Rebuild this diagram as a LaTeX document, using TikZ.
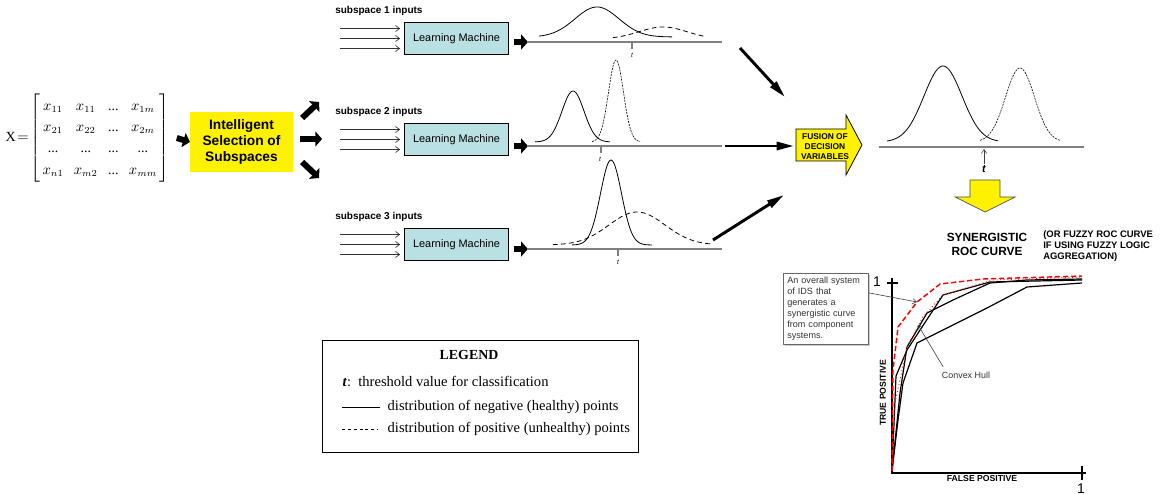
\documentclass[tikz,border=0pt]{standalone}
\usepackage{amsmath}
\usepackage{fontspec}
\setmainfont{Liberation Serif}
\setsansfont{Liberation Sans}
\usetikzlibrary{arrows.meta,calc,shadows}

\definecolor{lmfill}{RGB}{185,224,226}
\definecolor{axisgray}{RGB}{128,128,128}

\tikzset{
  lmbox/.style={draw, fill=lmfill, line width=0.6pt, minimum width=78pt, minimum height=24.5pt,
    font=\sffamily\fontsize{8.2}{10}\selectfont},
  sublabel/.style={anchor=west, inner sep=0pt, font=\sffamily\bfseries\fontsize{7.5}{9}\selectfont},
  inarrow/.style={-{Straight Barb[length=3pt,width=4.5pt]}, line width=0.5pt, black!80},
  fatarrow/.style={line width=4.5pt, -{Triangle[length=5pt,width=11pt]}},
  longarrow/.style={line width=2.2pt, -{Triangle[length=13pt,width=6pt]}},
  axisline/.style={axisgray, line width=1.1pt},
  negcurve/.style={line width=0.6pt},
  poscurve/.style={line width=0.6pt, dash pattern=on 3.5pt off 2.5pt},
  poscurvethin/.style={line width=0.45pt, dash pattern=on 1.5pt off 0.8pt},
  tlabel/.style={inner sep=0pt, font=\sffamily\itshape\fontsize{5}{6}\selectfont},
  ptr/.style={-{Straight Barb[length=3pt,width=4pt]}, line width=0.45pt, black!75},
  rocline/.style={line width=0.9pt},
  legtext/.style={anchor=west, font=\fontsize{10.9}{13}\selectfont},
}

\begin{document}
\begin{tikzpicture}[x=0.75pt,y=-0.75pt]
  \useasboundingbox (0,0) rectangle (1160,495);

  % data matrix and subspace selection
  \node[anchor=west] (X) at (1,138) {\fontsize{10.5}{13.6}\selectfont\renewcommand{\arraystretch}{1.18}%
    \setlength{\arraycolsep}{3.9pt}%
    $\textrm{X}\!=\!\left[\begin{array}{@{\,}cccc@{\,}}
      x_{11} & x_{11} & \mbox{...} & x_{1m}\\
      x_{21} & x_{22} & \mbox{...} & x_{2m}\\
      \mbox{...} & \mbox{...} & \mbox{...} & \mbox{...}\\
      x_{n1} & x_{m2} & \mbox{...} & x_{mm}
    \end{array}\right]$};
  \node[fill=yellow, minimum width=77pt, minimum height=45pt, align=center,
    font=\sffamily\bfseries\fontsize{10.3}{12}\selectfont] (sel) at (241.5,142)
    {Intelligent\\Selection of\\Subspaces};
  \draw[fatarrow] (X.east) ++(3,0) -- (sel.west);
  \draw[fatarrow] (sel.east) ++(9,-24) -- ++(17,-16);
  \draw[fatarrow] (sel.east) ++(7,-3) -- ++(22,0);
  \draw[fatarrow] (sel.east) ++(9,20) -- ++(17,16);

  % learning machines
  \foreach \r/\cy/\ay in {1/38.5/42, 2/139.5/146, 3/244.5/249} {
    \node[sublabel] (lab\r) at (335,{\cy-28}) {subspace \r\ inputs};
    \node[lmbox] (lm\r) at (456.5,\cy) {Learning Machine};
    \foreach \dy in {-10,0,10}
      \draw[inarrow] (lm\r.west) ++(-64,\dy) -- ++(60,0);
    \draw[fatarrow] (lm\r.east) ++(5,{\ay-\cy}) -- ++(14,0);
    \draw[axisline] (527,\ay) -- (722,\ay);
  }

  % subspace 1
  \draw[negcurve] plot[domain=539:672, samples=70] (\x, {37-30*exp(-0.5*(\x-597)*(\x-597)/(22*22))});
  \draw[poscurve] plot[domain=613:706, samples=50] (\x, {39-12*exp(-0.5*(\x-663)*(\x-663)/(24*24))});
  \draw[axisline, line width=0.8pt] (632,42) -- (632,49);
  \node[tlabel] (t1) at (632,55) {t};

  % subspace 2
  \draw[negcurve] plot[domain=535:610, samples=60] (\x, {142-51*exp(-0.5*(\x-573)*(\x-573)/(11*11))});
  \draw[poscurvethin] plot[domain=592:640, samples=60] (\x, {142-82*exp(-0.5*(\x-616)*(\x-616)/(7.5*7.5))});
  \draw[axisline, line width=0.8pt] (601,146) -- (601,153);
  \node[tlabel] (t2) at (600,159) {t};

  % subspace 3
  \draw[negcurve] plot[domain=572:652, samples=70] (\x, {245-85*exp(-0.5*(\x-611)*(\x-611)/(10.5*10.5))});
  \draw[poscurve] plot[domain=553:712, samples=70] (\x, {245-33*exp(-0.5*(\x-637)*(\x-637)/(28*28))});
  \draw[axisline, line width=0.8pt] (618,249) -- (618,256);
  \node[tlabel] (t3) at (618,262) {t};

  % fusion
  \draw[fill=yellow, line width=0.6pt] (796,129) -- (846,129) -- (846,115) -- (862,145)
    -- (846,175) -- (846,161) -- (796,161) -- cycle;
  \node[align=center, inner sep=0pt, font=\sffamily\bfseries\fontsize{6.3}{7.5}\selectfont]
    (fusion) at (825,147) {FUSION OF\\DECISION\\VARIABLES};
  \coordinate (in1) at (740,48);  \coordinate (out1) at (785,97);
  \coordinate (in2) at (725,146); \coordinate (out2) at (794,146);
  \coordinate (in3) at (713,240); \coordinate (out3) at (784,195);
  \draw[longarrow] (in1) -- (out1);
  \draw[longarrow] (in2) -- (out2);
  \draw[longarrow] (in3) -- (out3);

  % fused decision variable
  \draw[axisline] (879,147) -- (1084,147);
  \draw[negcurve] plot[domain=887:998, samples=70] (\x, {142-76*exp(-0.5*(\x-943)*(\x-943)/(19*19))});
  \draw[poscurvethin] plot[domain=980:1060, samples=70] (\x, {142-74*exp(-0.5*(\x-1020)*(\x-1020)/(14.5*14.5))});
  \node[inner sep=1pt, font=\sffamily\bfseries\itshape\fontsize{8}{9}\selectfont] (tf) at (984,169) {t};
  \draw[ptr] (tf.north) -- (984,149);
  \draw[fill=yellow, draw=black!70, line width=0.5pt] (970,180) -- (1000,180) -- (1000,197)
    -- (1015,197) -- (985,212) -- (955,197) -- (970,197) -- cycle;

  % ROC curve
  \node[align=center, font=\sffamily\bfseries\fontsize{8.9}{10.5}\selectfont] (roctitle) at (987,244)
    {SYNERGISTIC\\ROC CURVE};
  \node[anchor=north west, align=left, inner sep=0pt, font=\sffamily\bfseries\fontsize{7.1}{8.25}\selectfont]
    (fuzzy) at (1043,230) {(OR FUZZY ROC CURVE\\IF USING FUZZY LOGIC\\AGGREGATION)};
  \draw[line width=1.1pt] (892,278) -- (892,473) -- (1086,473);
  \draw[line width=1.1pt] (887,283) -- (898,283);
  \draw[line width=1.1pt] (1082,466) -- (1082,480);
  \node[font=\sffamily\fontsize{10.5}{12}\selectfont] (one1) at (877,282) {1};
  \node[font=\sffamily\fontsize{10.5}{12}\selectfont] (one2) at (1081,489) {1};
  \node[font=\sffamily\bfseries\fontsize{6.5}{8}\selectfont] (fp) at (982,479) {FALSE POSITIVE};
  \node[rotate=90, font=\sffamily\bfseries\fontsize{6.5}{8}\selectfont] (tp) at (883,393) {TRUE POSITIVE};

  \draw[rocline] (892,471) -- (896,376) -- (907,350) -- (943,295) -- (990,282) -- (1082,280);
  \draw[rocline] (892,471) -- (900,393) -- (907,347) -- (927,313) -- (953,300) -- (990,283)
    -- (1027,280) -- (1082,279);
  \draw[rocline] (892,471) -- (898,420) -- (903,383) -- (917,343) -- (987,308) -- (1027,287) -- (1082,283);
  \draw[red, line width=1.1pt, dash pattern=on 4pt off 2pt] (892,471) -- (893,370) -- (898,327)
    -- (917,302) -- (940,284) -- (983,279) -- (1082,276);
  \draw[red, line width=0.7pt, dotted] (892,471) -- (895,403) -- (907,347) -- (923,317) -- (943,295)
    -- (993,280) -- (1082,277);

  \node[draw=black!60, fill=white, line width=0.5pt, anchor=north west, align=left, text width=58pt,
    inner sep=3pt, text=black!80, font=\sffamily\fontsize{6.8}{8.2}\selectfont,
    drop shadow={shadow xshift=1.2pt, shadow yshift=-1.2pt, fill=black!40}]
    (ids) at (783,273) {An overall system\\of IDS that\\generates a\\synergistic curve\\from component\\systems.};
  \draw[ptr] ([yshift=12pt]ids.east) -- (917,302);
  \node[text=black!80, font=\sffamily\fontsize{6.7}{8}\selectfont] (hull) at (966,375) {Convex Hull};
  \draw[ptr] ($(hull.north west)+(6,0)$) -- (918,325);

  % legend
  \node[draw, line width=0.6pt, minimum width=237pt, minimum height=84pt] (legend) at (480,396) {};
  \node[font=\bfseries\fontsize{10.4}{12}\selectfont] (legtitle) at (469,355) {LEGEND};
  \node[legtext] (legt) at (338,381) {\textbf{\textit{t}}:\ \ threshold value for classification};
  \draw[line width=0.6pt] (342,407) -- (380,407);
  \node[legtext] (legneg) at (383,407) {distribution of negative (healthy) points};
  \draw[line width=0.6pt, dash pattern=on 2.2pt off 2.2pt] (342,429) -- (378,429);
  \node[legtext] (legpos) at (383,429) {distribution of positive (unhealthy) points};
\end{tikzpicture}
\end{document}
